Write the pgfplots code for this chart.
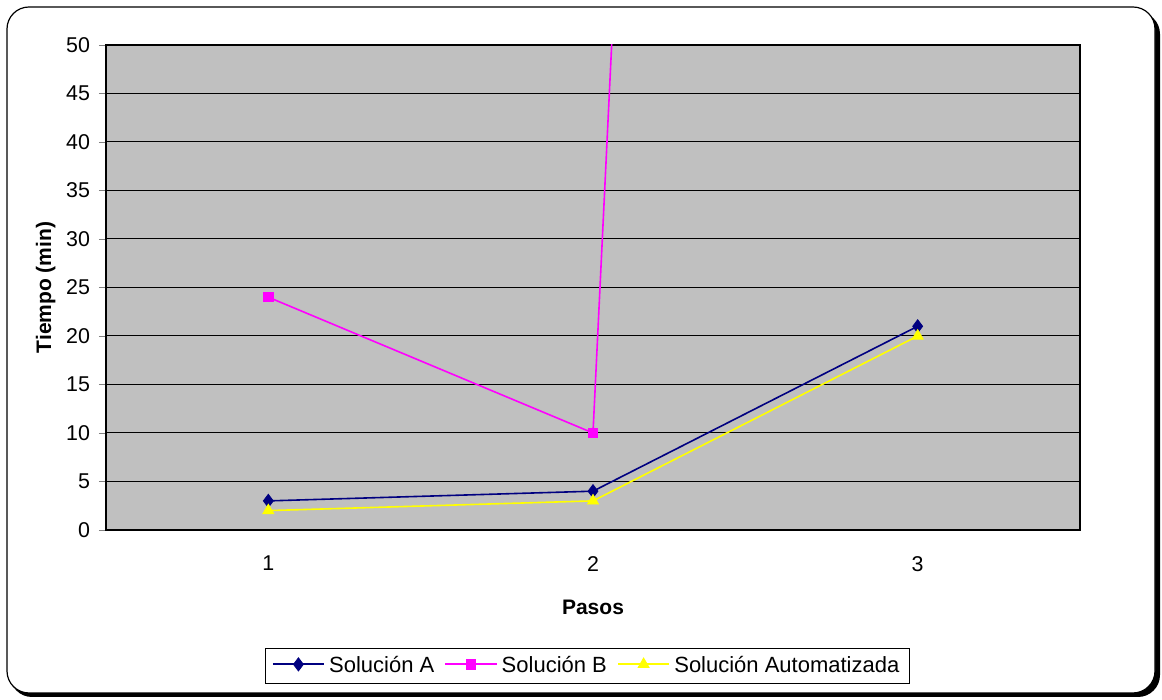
\documentclass[border=0pt]{standalone}
\usepackage{fontspec}
\setmainfont{Liberation Sans}
\usepackage{pgfplots}
\pgfplotsset{compat=1.18}
\definecolor{navyA}{HTML}{000080}
\definecolor{magB}{HTML}{FF00FF}
\definecolor{yelC}{HTML}{FFFF00}
\definecolor{plotgray}{HTML}{C0C0C0}
\begin{document}
\begin{tikzpicture}
\useasboundingbox (0,0) rectangle (581pt,350pt);
\fill[black,rounded corners=11pt] (5pt,1.5pt) rectangle (580pt,344pt);
\draw[black,fill=white,rounded corners=11pt,line width=0.6pt] (3.5pt,3.5pt) rectangle (577.5pt,346.5pt);
\begin{axis}[
  at={(53pt,85pt)}, anchor=south west,
  scale only axis, width=487pt, height=242.5pt,
  xmin=0.5, xmax=3.5, ymin=0, ymax=50,
  xtick={1,2,3}, minor xtick={0.5,1.5,2.5,3.5},
  ytick={0,5,...,50},
  xtick style={draw=none},
  minor tick length=3.5pt, major tick length=3.5pt,
  tick align=outside, xtick pos=bottom, ytick pos=left,
  ymajorgrids, grid style={black, line width=0.5pt},
  axis background/.style={fill=plotgray},
  axis line style={black, line width=0.6pt},
  /pgf/number format/assume math mode=true,
  ticklabel style={font=\fontsize{10.7pt}{12pt}\selectfont},
  xticklabel style={yshift=-6pt},
  yticklabel style={xshift=-1pt},
  xlabel={Pasos}, ylabel={Tiempo (min)},
  xlabel style={font=\fontsize{10.5pt}{12pt}\selectfont\bfseries, at={(axis description cs:0.5,0)}, anchor=center, yshift=-38.5pt},
  ylabel style={font=\fontsize{10.5pt}{12pt}\selectfont\bfseries, at={(axis description cs:-0.062,0.5)}, anchor=center},
  legend columns=3,
  legend style={at={(axis description cs:0.4944,-0.2794)}, anchor=center,
    font=\fontsize{11pt}{13pt}\selectfont, draw=black,
    /tikz/every even column/.append style={column sep=3pt}},
  legend image code/.code={\draw[#1, line width=1.1pt, mark repeat=2, mark phase=2] plot coordinates {(0cm,0.02cm) (0.45cm,0.02cm) (0.9cm,0.02cm)};},
  every axis plot/.append style={line width=0.8pt},
]
\addplot[navyA, mark=diamond*, mark size=3.3pt, mark options={fill=navyA, line width=0.4pt}] coordinates {(1,3) (2,4) (3,21)};
\addlegendentry{Solución A}
\addplot[magB, mark=square*, mark size=2.3pt, mark options={fill=magB, line width=0.4pt}] coordinates {(1,24) (2,10) (3,706)};
\addlegendentry{Solución B}
\addplot[yelC, mark=triangle*, mark size=3.2pt, mark options={fill=yelC, line width=0.4pt}] coordinates {(1,2) (2,3) (3,20)};
\addlegendentry{Solución Automatizada}
\end{axis}
\end{tikzpicture}
\end{document}
